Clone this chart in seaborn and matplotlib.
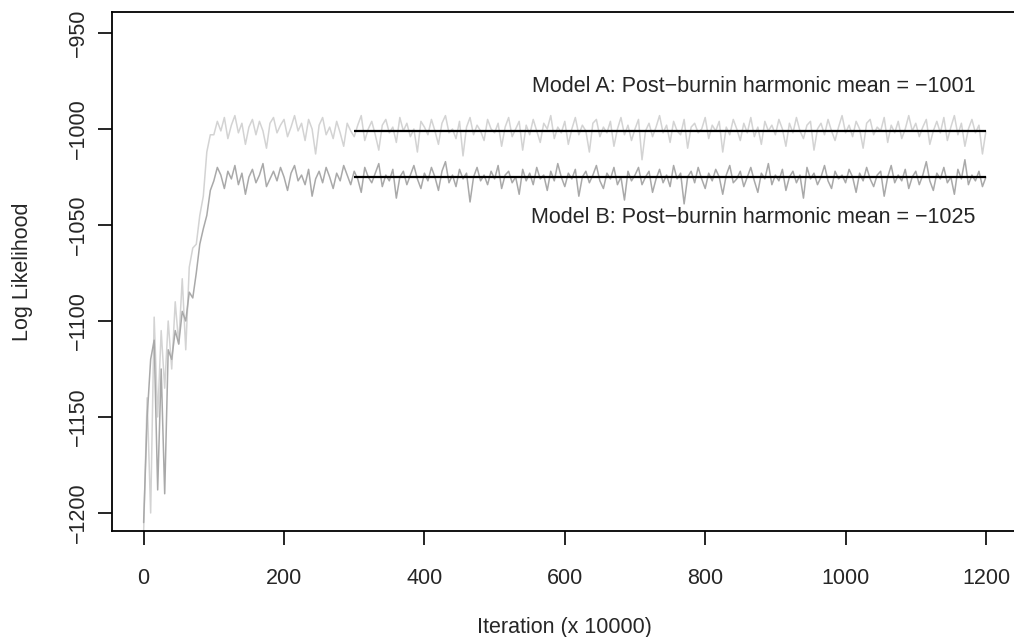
import matplotlib
matplotlib.use('Agg')
import numpy as np
import pandas as pd
import matplotlib.pyplot as plt
import seaborn as sns

# iteration grid (x 10000), one value every 5
ITER = list(range(0, 1201, 5))

# Model A trace (light grey)
MODEL_A = [
    -1210, -1140, -1200, -1098, -1150, -1105, -1135, -1100, -1125, -1090, -1112, -1078, -1115, -1072, -1062, -1060, -1045, -1035, -1012, -1003,
    -1003, -996, -1001, -994, -1005, -998, -993, -1002, -997, -1008, -999, -995, -1003, -996, -1001, -1010, -997, -994, -1002, -998,
    -995, -1004, -999, -993, -1001, -997, -1006, -995, -1000, -1013, -998, -994, -1003, -999, -1005, -996, -1002, -1009, -997, -1001,
    -1004, -998, -993, -1006, -1000, -996, -1003, -1011, -998, -995, -1002, -999, -1007, -994, -1001, -997, -1004, -1000, -1012, -996,
    -999, -1003, -995, -1001, -1008, -997, -993, -1002, -1000, -1005, -996, -1014, -999, -994, -1003, -998, -1001, -1006, -995, -1000,
    -1002, -997, -1009, -999, -994, -1004, -1000, -996, -1011, -998, -1003, -995, -1001, -1007, -997, -1000, -993, -1005, -999, -1002,
    -996, -1008, -1000, -994, -1003, -998, -1001, -1012, -997, -995, -1004, -999, -1002, -996, -1009, -1000, -994, -1003, -998, -1006,
    -1000, -995, -1016, -1001, -997, -1004, -999, -993, -1002, -998, -1007, -996, -1001, -1003, -995, -1010, -999, -997, -1002, -1000,
    -994, -1005, -998, -1001, -996, -1012, -999, -1003, -995, -1000, -1006, -997, -1002, -994, -1004, -999, -1008, -996, -1001, -998,
    -1003, -995, -1000, -1009, -997, -1002, -994, -1001, -1005, -998, -996, -1011, -1000, -997, -1003, -995, -1001, -1006, -999, -993,
    -1002, -998, -1004, -996, -1000, -1010, -997, -995, -1003, -999, -1001, -994, -1007, -998, -1002, -996, -1005, -1000, -993, -1001,
    -997, -1004, -999, -995, -1008, -1001, -996, -1002, -994, -1006, -999, -993, -1003, -997, -1009, -1000, -995, -1002, -998, -1013,
    -1001,
]

# Model B trace (darker grey)
MODEL_B = [
    -1205, -1150, -1120, -1110, -1188, -1125, -1190, -1115, -1120, -1105, -1112, -1095, -1100, -1085, -1088, -1075, -1060, -1052, -1045, -1032,
    -1027, -1020, -1024, -1031, -1022, -1026, -1019, -1029, -1023, -1034, -1025, -1021, -1028, -1024, -1018, -1030, -1026, -1022, -1027, -1020,
    -1025, -1032, -1023, -1019, -1027, -1024, -1029, -1021, -1035, -1026, -1022, -1028, -1020, -1025, -1031, -1023, -1027, -1019, -1024, -1029,
    -1022, -1026, -1033, -1020, -1025, -1028, -1023, -1018, -1030, -1024, -1027, -1021, -1036, -1025, -1022, -1029, -1024, -1019, -1026, -1031,
    -1023, -1027, -1020, -1025, -1032, -1022, -1017, -1028, -1024, -1030, -1021, -1026, -1023, -1038, -1025, -1020, -1027, -1024, -1029, -1022,
    -1026, -1019, -1031, -1024, -1022, -1028, -1025, -1034, -1021, -1027, -1023, -1029, -1020, -1026, -1024, -1032, -1022, -1027, -1018, -1025,
    -1030, -1023, -1026, -1021, -1035, -1025, -1022, -1028, -1024, -1019, -1027, -1031, -1023, -1026, -1020, -1029, -1025, -1037, -1022, -1027,
    -1024, -1020, -1029, -1025, -1022, -1033, -1026, -1021, -1028, -1024, -1030, -1019, -1026, -1023, -1039, -1025, -1022, -1028, -1020, -1026,
    -1031, -1023, -1027, -1021, -1025, -1034, -1024, -1019, -1028, -1026, -1022, -1030, -1025, -1020, -1027, -1033, -1023, -1026, -1018, -1029,
    -1024, -1027, -1021, -1032, -1025, -1022, -1028, -1024, -1036, -1020, -1026, -1023, -1029, -1025, -1019, -1027, -1031, -1022, -1026, -1024,
    -1028, -1021, -1025, -1033, -1023, -1027, -1020, -1026, -1030, -1024, -1022, -1035, -1025, -1019, -1028, -1024, -1027, -1021, -1031, -1025,
    -1022, -1029, -1024, -1017, -1027, -1032, -1023, -1026, -1020, -1028, -1025, -1034, -1021, -1026, -1016, -1029, -1024, -1027, -1022, -1030,
    -1025,
]

# post-burnin harmonic means
BURNIN_START = 300
BURNIN_END = 1200
HMEAN_A = -1001
HMEAN_B = -1025

LABEL_A = "Model A: Post\u2212burnin harmonic mean = \u22121001"
LABEL_B = "Model B: Post\u2212burnin harmonic mean = \u22121025"

XTICKS = [0, 200, 400, 600, 800, 1000, 1200]
YTICKS = [-1200, -1150, -1100, -1050, -1000, -950]

FS = 15.5

sns.set_style("white")
plt.rcParams['font.family'] = ['Liberation Sans', 'DejaVu Sans']

df = pd.DataFrame({'iter': ITER, 'A': MODEL_A, 'B': MODEL_B})

fig = plt.figure(figsize=(10.14, 6.37), dpi=100)
ax = fig.add_axes([0.1105, 0.1664, 0.893, 0.814])

sns.lineplot(data=df, x='iter', y='A', ax=ax, color='#d3d3d3', linewidth=1.1)
sns.lineplot(data=df, x='iter', y='B', ax=ax, color='#a9a9a9', linewidth=1.1)

# harmonic mean lines
ax.hlines([HMEAN_A, HMEAN_B], BURNIN_START, BURNIN_END, colors='black', linewidth=1.6)

ax.text(1185, -978, LABEL_A, ha='right', va='center', fontsize=FS)
ax.text(1185, -1046, LABEL_B, ha='right', va='center', fontsize=FS)

ax.set_xlim(-45, 1245)
ax.set_ylim(-1209.4, -939.3)
ax.set_xticks(XTICKS)
ax.set_yticks(YTICKS)
ax.set_xticklabels([str(t) for t in XTICKS])
ax.set_yticklabels([str(t).replace('-', '\u2212') for t in YTICKS], rotation=90, va='center')
ax.tick_params(axis='both', direction='out', length=10, width=1.2, labelsize=FS,
               bottom=True, left=True, color='black')
ax.tick_params(axis='x', pad=16.5)
ax.tick_params(axis='y', pad=6.5)

for s in ax.spines.values():
    s.set_color('black')
    s.set_linewidth(1.3)

ax.set_xlabel('Iteration (x 10000)', fontsize=FS, labelpad=20)
ax.set_ylabel('Log Likelihood', fontsize=FS, labelpad=25)

fig.savefig('out.png', dpi=100)
